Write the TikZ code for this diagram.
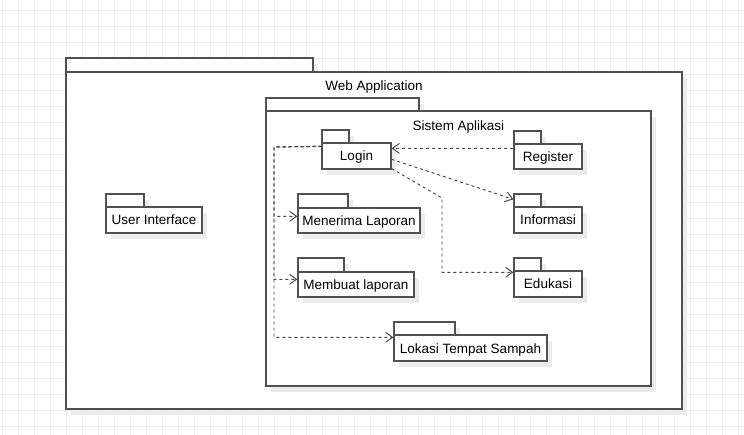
\documentclass[tikz,border=0pt]{standalone}
\usepackage{fontspec}
\setmainfont{Liberation Sans}
\usetikzlibrary{arrows.meta,calc}
\definecolor{gridc}{HTML}{EBEBEB}
\definecolor{shadc}{HTML}{ECECEC}
\definecolor{linec}{HTML}{505050}
\definecolor{conc}{HTML}{454545}
\tikzset{
  pkg/.style={draw=linec, line width=1.3pt, fill=white, inner sep=0pt},
  lbl/.style={font=\fontsize{13.5}{15}\selectfont, text=black, inner sep=0pt,
    text height=11pt, text depth=1pt},
  dep/.style={draw=conc, line width=0.95pt, dash pattern=on 3pt off 3pt,
    -{Straight Barb[length=7pt,width=10pt,line width=0.95pt]}},
}
\newcommand\pkgbox[8]{%
  \fill[shadc] (#2+5,#4+6) rectangle (#3+5,#5+6);
  \fill[shadc] (#2+5,#5+6) rectangle (#6+5,#7+6);
  \draw[pkg] (#2,#4) rectangle (#3,#5);
  \node[pkg, lbl, minimum width={(#6-#2)*1pt}, minimum height={(#7-#5)*1pt}] (#1) at ({(#2+#6)/2},{(#5+#7)/2}) {#8};
}
\begin{document}
\begin{tikzpicture}[x=1pt,y=-1pt]
\useasboundingbox (0,0) rectangle (744,435);
\fill[white] (0,0) rectangle (744,435);
\foreach \i in {0,...,46} \draw[gridc, line width=0.8pt] ({2.7+16*\i},0) -- ({2.7+16*\i},435);
\foreach \j in {0,...,26} \draw[gridc, line width=0.8pt] (0,{10+16*\j}) -- (744,{10+16*\j});

\pkgbox{web}{66}{313}{58}{72}{682}{409}{}
\node[lbl] (webtitle) at (374,85.5) {Web Application};
\pkgbox{sistem}{266}{419}{98}{111}{651}{386}{}
\node[lbl] (sistitle) at (458.5,125.5) {Sistem Aplikasi};

\pkgbox{ui}{106}{144}{194}{207}{202}{233}{User Interface}
\pkgbox{login}{322}{349}{130}{143}{391}{169}{Login}
\pkgbox{register}{514}{541}{131}{144}{582}{169}{Register}
\pkgbox{informasi}{514}{541}{194}{207}{582}{233}{Informasi}
\pkgbox{edukasi}{514}{541}{258}{271}{582}{297}{Edukasi}
\pkgbox{menerima}{298}{348}{194}{208}{420}{233}{Menerima Laporan}
\pkgbox{membuat}{298}{344}{258}{272}{414}{297}{Membuat laporan}
\pkgbox{lokasi}{394}{455}{322}{335}{547}{361}{Lokasi Tempat Sampah}

\coordinate (lcorner) at (274,147);
\draw[dep] ($(login.north west)+(0,4)$) -- (lcorner) |- ($(menerima.north west)+(0,9)$);
\draw[dep, dash phase=1pt] ($(login.north west)+(0,4)$) -- (lcorner) |- ($(membuat.north west)+(0,8)$);
\draw[dep] ($(login.north west)+(0,4)$) -- (lcorner) |- ($(lokasi.north west)+(0,3)$);

\draw[dep] ($(register.north west)+(0,5)$) -- ($(login.north east)+(0,6)$);
\draw[dep] ($(login.north east)+(0,17)$) -- ($(informasi.north west)+(0,-7)$);
\coordinate (ebend) at (442,198);
\draw[dep] ($(login.south east)+(0,-1)$) -- (ebend) |- ($(edukasi.north west)+(0,2)$);
\end{tikzpicture}
\end{document}
